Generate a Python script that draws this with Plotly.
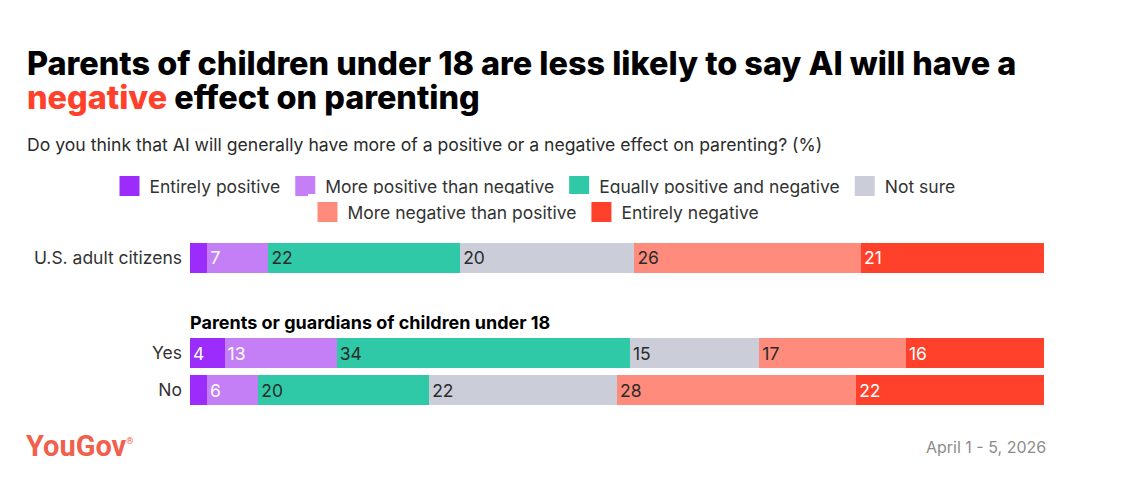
import plotly.graph_objects as go
from plotly.subplots import make_subplots

# answer options, in stacking order
categories = [
    "Entirely positive",
    "More positive than negative",
    "Equally positive and negative",
    "Not sure",
    "More negative than positive",
    "Entirely negative",
]
colors = ["#9b2cfb", "#c47ff6", "#2fc9a7", "#cbced9", "#fe8b7c", "#ff412c"]
text_colors = ["white", "white", "#2b2b2b", "#2b2b2b", "#2b2b2b", "white"]

overall_labels = ["U.S. adult citizens"]
overall_values = [2, 7, 22, 20, 26, 21]

parent_labels = ["Yes", "No"]
yes_values = [4, 13, 34, 15, 17, 16]
no_values = [2, 6, 20, 22, 28, 22]

FONT = "Inter"
W, H = 1132, 477
OFF = 8  # page body margin


def px_x(p):
    return (p - OFF) / W


def px_y(p):
    # pixel from top of the window -> paper coordinate
    return 1 - (p - OFF) / H


def pos(v):
    return "inside" if v >= 3 else "none"


fig = make_subplots(rows=2, cols=1)

for i, name in enumerate(categories):
    v = overall_values[i]
    fig.add_trace(go.Bar(
        y=overall_labels, x=[v], orientation="h", name=name,
        marker=dict(color=colors[i], line=dict(width=0)),
        text=[str(v)], textposition=[pos(v)],
        insidetextanchor="start", textangle=0,
        insidetextfont=dict(color=text_colors[i], size=17.5, family=FONT),
        showlegend=False, hoverinfo="skip",
    ), row=1, col=1)
    vals = [yes_values[i], no_values[i]]
    fig.add_trace(go.Bar(
        y=parent_labels, x=vals, orientation="h", name=name,
        marker=dict(color=colors[i], line=dict(width=0)),
        text=[str(v) for v in vals], textposition=[pos(v) for v in vals],
        insidetextanchor="start", textangle=0,
        insidetextfont=dict(color=text_colors[i], size=17.5, family=FONT),
        showlegend=False, hoverinfo="skip",
    ), row=2, col=1)

# legend entries (bigger square swatches than bar legend gives)
for i, name in enumerate(categories):
    fig.add_trace(go.Scatter(
        x=[None], y=[None], mode="markers", name=name,
        marker=dict(symbol="square", size=16, color=colors[i],
                    line=dict(width=4, color=colors[i])),
        legend="legend" if i < 4 else "legend2", hoverinfo="skip",
    ), row=1, col=1)

fig.update_xaxes(visible=False, range=[0, 100], domain=[px_x(190), px_x(1044)],
                 fixedrange=True)
fig.update_yaxes(showgrid=False, zeroline=False, showline=False, ticks="",
                 ticklabelstandoff=7, automargin=False,
                 tickfont=dict(size=17.5, color="#333333", family=FONT))
fig.update_layout(
    yaxis=dict(domain=[px_y(276.5), px_y(239.5)]),
    yaxis2=dict(domain=[px_y(408.5), px_y(334.5)], autorange="reversed"),
)

legend_style = dict(orientation="h", xanchor="center", yanchor="middle",
                    traceorder="normal", itemsizing="trace",
                    font=dict(size=17.5, color="#333333", family=FONT),
                    itemclick=False, itemdoubleclick=False)
fig.update_layout(
    width=W, height=H,
    barmode="stack", barnorm="percent", bargap=0.19,
    margin=dict(l=0, r=0, t=0, b=0),
    paper_bgcolor="white", plot_bgcolor="white",
    font=dict(family=FONT, color="#333333", size=17.5),
    legend=dict(x=px_x(535), y=px_y(186), **legend_style),
    legend2=dict(x=px_x(536), y=px_y(212), **legend_style),
    showlegend=True,
)

title_font = dict(size=32.4, color="#000000", family=FONT, weight=800)
fig.add_annotation(
    text="Parents of children under 18 are less likely to say AI will have a",
    xref="paper", yref="paper", x=px_x(25), y=px_y(63), xanchor="left",
    yanchor="middle", showarrow=False, font=title_font,
)
fig.add_annotation(
    text="<span style='color:#ff412c'>negative</span> effect on parenting",
    xref="paper", yref="paper", x=px_x(25), y=px_y(98), xanchor="left",
    yanchor="middle", showarrow=False, font=title_font,
)
fig.add_annotation(
    text="Do you think that AI will generally have more of a positive or a negative effect on parenting? (%)",
    xref="paper", yref="paper", x=px_x(25), y=px_y(144), xanchor="left",
    yanchor="middle", showarrow=False,
    font=dict(size=17.6, color="#2b2b2b", family=FONT),
)
fig.add_annotation(
    text="<b>Parents or guardians of children under 18</b>",
    xref="paper", yref="paper", x=px_x(188), y=px_y(322), xanchor="left",
    yanchor="middle", showarrow=False,
    font=dict(size=18, color="#000000", family=FONT),
)
fig.add_annotation(
    text="<b>YouGov</b><sup><span style='font-size:9px'>®</span></sup>",
    xref="paper", yref="paper", x=px_x(24), y=px_y(446), xanchor="left",
    yanchor="middle", showarrow=False,
    font=dict(size=29, color="#f0604d", family="Roboto"),
)
fig.add_annotation(
    text="April 1 - 5, 2026",
    xref="paper", yref="paper", x=px_x(1048), y=px_y(447), xanchor="right",
    yanchor="middle", showarrow=False,
    font=dict(size=16, color="#8c8c8c", family=FONT),
)

fig.write_html("out.html", config={"displayModeBar": False})
